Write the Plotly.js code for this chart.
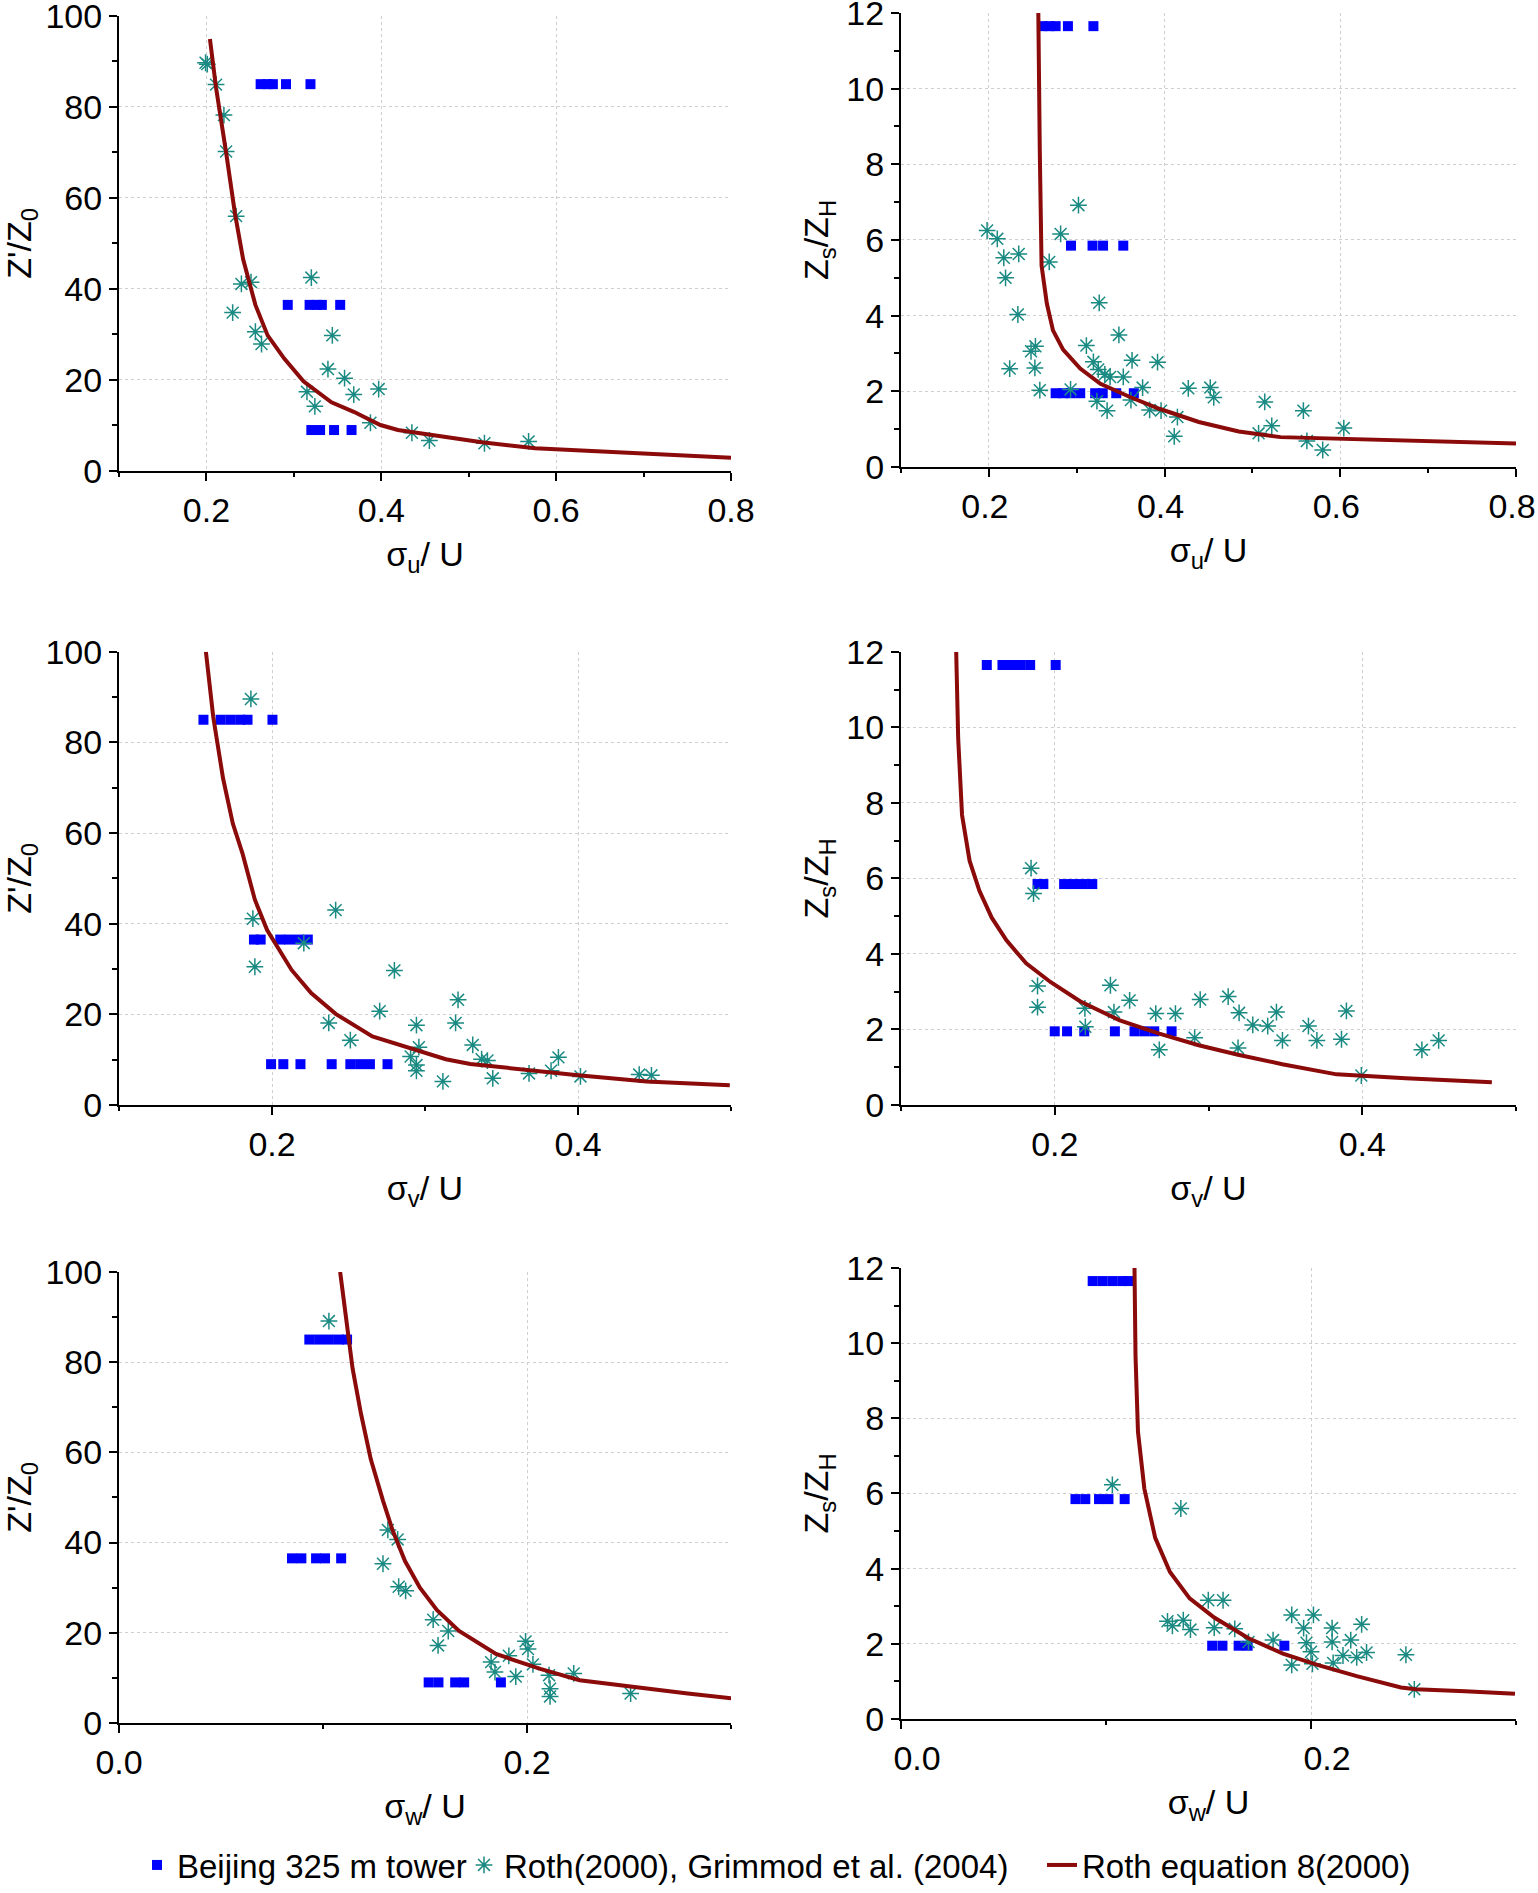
<!DOCTYPE html>
<html>
<head>
<meta charset="utf-8">
<script src="https://cdn.plot.ly/plotly-3.0.1.min.js"></script>
<style>
  html, body { margin: 0; padding: 0; background: #fff; }
  #chart { width: 1538px; height: 1893px; }
</style>
</head>
<body>
<div id="chart"></div>
<script>
// ---- sigma_u / U ----
const uLeftTowerX = [0.262, 0.270, 0.276, 0.291, 0.319, 0.293, 0.318, 0.326, 0.332, 0.353, 0.320, 0.330, 0.346, 0.366];
const uLeftTowerY = [85, 85, 85, 85, 85, 36.5, 36.5, 36.5, 36.5, 36.5, 9, 9, 9, 9];
const uLeftRothX = [0.199, 0.201, 0.211, 0.220, 0.2225, 0.234, 0.240, 0.251, 0.230, 0.256, 0.263, 0.320, 0.344, 0.339, 0.358, 0.315, 0.324, 0.3685, 0.397, 0.3876, 0.435, 0.455, 0.518, 0.5685];
const uLeftRothY = [89.7, 89.4, 84.9, 78.2, 70.2, 56.0, 41.1, 41.5, 34.8, 30.6, 27.9, 42.5, 29.8, 22.4, 20.4, 17.4, 14.2, 16.8, 18.0, 10.6, 8.4, 6.7, 6.1, 6.5];
const uLeftEqX = [0.204, 0.211, 0.2225, 0.2326, 0.242, 0.256, 0.270, 0.289, 0.311, 0.343, 0.3685, 0.399, 0.419, 0.453, 0.515, 0.576, 0.638, 0.694, 0.8];
const uLeftEqY = [94.9, 84.2, 70.0, 56.6, 46.5, 36.5, 29.8, 24.7, 19.7, 15.1, 13.0, 10.1, 9.0, 8.0, 6.3, 5.0, 4.4, 3.8, 2.9];

const uRightTowerX = [0.261, 0.269, 0.276, 0.290, 0.319, 0.2935, 0.318, 0.330, 0.353, 0.276, 0.2845, 0.293, 0.304, 0.321, 0.3296, 0.345, 0.365];
const uRightTowerY = [11.65, 11.65, 11.65, 11.65, 11.65, 5.85, 5.85, 5.85, 5.85, 1.95, 1.95, 1.95, 1.95, 1.95, 1.95, 1.95, 1.95];
const uRightRothX = [0.198, 0.2096, 0.217, 0.234, 0.219, 0.233, 0.248, 0.253, 0.2237, 0.2524, 0.258, 0.2687, 0.2817, 0.302, 0.3256, 0.348, 0.311, 0.319, 0.3245, 0.332, 0.338, 0.353, 0.363, 0.392, 0.293, 0.375, 0.323, 0.3346, 0.3617, 0.383, 0.396, 0.4146, 0.411, 0.427, 0.452, 0.456, 0.507, 0.514, 0.522, 0.558, 0.562, 0.580, 0.604];
const uRightRothY = [6.25, 6.03, 5.53, 5.63, 5.0, 4.03, 3.06, 3.19, 2.60, 2.62, 2.03, 5.42, 6.16, 6.92, 4.34, 3.49, 3.21, 2.78, 2.58, 2.45, 2.38, 2.38, 2.82, 2.77, 2.05, 2.10, 1.74, 1.49, 1.77, 1.51, 1.49, 1.32, 0.81, 2.08, 2.10, 1.84, 0.89, 1.72, 1.09, 1.49, 0.69, 0.45, 1.03];
const uRightEqX = [0.2563, 0.2575, 0.258, 0.260, 0.266, 0.273, 0.2845, 0.304, 0.327, 0.3606, 0.394, 0.439, 0.4845, 0.532, 0.62, 0.704, 0.8];
const uRightEqY = [12, 10.37, 8.3, 5.32, 4.32, 3.61, 3.1, 2.6, 2.2, 1.85, 1.54, 1.19, 0.94, 0.79, 0.74, 0.69, 0.62];

// ---- sigma_v / U ----
const vLeftTowerX = [0.1552, 0.1664, 0.1728, 0.1792, 0.184, 0.2003, 0.1882, 0.1926, 0.2054, 0.2112, 0.2176, 0.2234, 0.1994, 0.2074, 0.2186, 0.239, 0.2512, 0.2576, 0.264, 0.2755];
const vLeftTowerY = [85, 85, 85, 85, 85, 85, 36.5, 36.5, 36.5, 36.5, 36.5, 36.5, 9, 9, 9, 9, 9, 9, 9, 9];
const vLeftRothX = [0.1862, 0.1875, 0.1888, 0.2208, 0.2416, 0.28, 0.2704, 0.2371, 0.2512, 0.2944, 0.296, 0.2906, 0.2944, 0.2944, 0.3117, 0.3216, 0.32, 0.3312, 0.337, 0.3408, 0.3443, 0.368, 0.3824, 0.3872, 0.4016, 0.44, 0.448];
const vLeftRothY = [89.6, 41.1, 30.5, 35.7, 43.0, 29.7, 20.7, 18.1, 14.3, 17.6, 12.75, 10.7, 8.8, 7.55, 5.2, 23.2, 18.1, 13.25, 10.1, 9.8, 5.87, 6.96, 7.55, 10.5, 6.3, 6.7, 6.54];
const vLeftEqX = [0.1568, 0.1616, 0.168, 0.1744, 0.1808, 0.1888, 0.1968, 0.2032, 0.2128, 0.2256, 0.2416, 0.2656, 0.2944, 0.3136, 0.3296, 0.3584, 0.4, 0.4448, 0.4992];
const vLeftEqY = [100, 85.6, 72.1, 62.1, 55.4, 45.3, 38.6, 35.2, 29.8, 24.7, 20.1, 15.1, 12.2, 10.1, 9.06, 7.97, 6.54, 5.2, 4.36];

const vRightTowerX = [0.1558, 0.166, 0.1718, 0.1776, 0.184, 0.2006, 0.1888, 0.1926, 0.2061, 0.2119, 0.2183, 0.2244, 0.2, 0.208, 0.2192, 0.2391, 0.2519, 0.2583, 0.2647, 0.276];
const vRightTowerY = [11.65, 11.65, 11.65, 11.65, 11.65, 11.65, 5.85, 5.85, 5.85, 5.85, 5.85, 5.85, 1.95, 1.95, 1.95, 1.95, 1.95, 1.95, 1.95, 1.95];
const vRightRothX = [0.1846, 0.1862, 0.1888, 0.1888, 0.2196, 0.2199, 0.2362, 0.2385, 0.2487, 0.2657, 0.2785, 0.268, 0.291, 0.2946, 0.3128, 0.3199, 0.3192, 0.3288, 0.3385, 0.3442, 0.3481, 0.365, 0.3705, 0.3865, 0.3897, 0.3994, 0.4388, 0.4497];
const vRightRothY = [6.27, 5.60, 3.15, 2.59, 2.56, 2.07, 3.17, 2.46, 2.77, 2.42, 2.42, 1.46, 1.78, 2.79, 2.87, 2.44, 1.51, 2.12, 2.09, 2.46, 1.71, 2.09, 1.71, 1.74, 2.49, 0.78, 1.46, 1.71];
const vRightEqX = [0.1359, 0.1372, 0.1397, 0.1446, 0.151, 0.159, 0.1686, 0.1814, 0.1974, 0.2167, 0.2423, 0.268, 0.2936, 0.3192, 0.348, 0.3833, 0.4282, 0.4843];
const vRightEqY = [12, 9.70, 7.68, 6.47, 5.67, 4.96, 4.36, 3.75, 3.25, 2.74, 2.24, 1.89, 1.58, 1.33, 1.08, 0.81, 0.71, 0.60];

// ---- sigma_w / U ----
const wLeftTowerX = [0.0933, 0.0981, 0.1029, 0.1077, 0.1118, 0.0848, 0.0894, 0.0966, 0.101, 0.1089, 0.1518, 0.1566, 0.1648, 0.1692, 0.1872];
const wLeftTowerY = [85, 85, 85, 85, 85, 36.5, 36.5, 36.5, 36.5, 36.5, 9, 9, 9, 9, 9];
const wLeftRothX = [0.1029, 0.1318, 0.1366, 0.1294, 0.1371, 0.1405, 0.154, 0.1614, 0.1564, 0.1824, 0.1843, 0.1911, 0.1945, 0.1993, 0.2005, 0.2029, 0.2108, 0.2113, 0.2113, 0.2229, 0.2508];
const wLeftRothY = [89.1, 42.8, 40.7, 35.3, 30.2, 29.3, 22.9, 20.4, 17.2, 13.5, 11.3, 14.9, 10.3, 18.1, 16.4, 13.0, 10.6, 7.6, 5.9, 11.0, 6.54];
const wLeftEqX = [0.1084, 0.1113, 0.1145, 0.1186, 0.1234, 0.1294, 0.1342, 0.1402, 0.1475, 0.1559, 0.1667, 0.1848, 0.2065, 0.2258, 0.2499, 0.2788, 0.3005];
const wLeftEqY = [100, 89.5, 78.6, 68.6, 58.5, 49.3, 42.6, 35.9, 30.0, 25.0, 20.4, 15.3, 12.0, 9.47, 8.05, 6.54, 5.45];

const wRightTowerX = [0.0935, 0.0983, 0.1031, 0.1079, 0.1108, 0.0851, 0.0899, 0.0966, 0.1012, 0.1091, 0.1518, 0.1568, 0.1647, 0.1691, 0.187];
const wRightTowerY = [11.65, 11.65, 11.65, 11.65, 11.65, 5.85, 5.85, 5.85, 5.85, 5.85, 1.95, 1.95, 1.95, 1.95, 1.95];
const wRightRothX = [0.1031, 0.1365, 0.1499, 0.1571, 0.13, 0.1324, 0.1377, 0.1412, 0.1528, 0.1628, 0.1695, 0.1815, 0.1906, 0.2012, 0.1964, 0.1978, 0.2, 0.1906, 0.2007, 0.2103, 0.2103, 0.2108, 0.2194, 0.2156, 0.2223, 0.2271, 0.2247, 0.2463, 0.2504];
const wRightRothY = [6.23, 5.60, 3.16, 3.16, 2.60, 2.48, 2.63, 2.38, 2.43, 2.40, 2.05, 2.10, 2.77, 2.77, 2.42, 2.03, 1.79, 1.44, 1.47, 2.42, 2.05, 1.49, 2.10, 1.69, 1.64, 1.77, 2.52, 1.71, 0.79];
const wRightEqX = [0.1139, 0.1144, 0.1156, 0.1187, 0.124, 0.1312, 0.1408, 0.1528, 0.1695, 0.1863, 0.2031, 0.2223, 0.2439, 0.2511, 0.2751, 0.2995];
const wRightEqY = [12, 9.66, 7.64, 6.13, 4.82, 3.91, 3.21, 2.70, 2.15, 1.74, 1.44, 1.14, 0.84, 0.79, 0.74, 0.67];

const seriesNames = ['Beijing 325 m tower', 'Roth(2000), Grimmod et al. (2004)', 'Roth equation 8(2000)'];
const xTitles = ['σ<sub>u</sub>/ U', 'σ<sub>v</sub>/ U', 'σ<sub>w</sub>/ U'];
const yTitleLeft = "Z'/Z<sub>0</sub>";
const yTitleRight = 'Z<sub>s</sub>/Z<sub>H</sub>';

const W = 1538, H = 1893;
const FONT = 'Liberation Sans, Arial, sans-serif';
const FS = 34;
const BLUE = '#0000ff', TEAL = '#1a8a82', RED = '#8b0a0a';

// panel boxes in pixels: [left, right, top, bottom]
const panels = [
  {box: [119, 731, 16, 474], tower: [uLeftTowerX, uLeftTowerY], roth: [uLeftRothX, uLeftRothY], eq: [uLeftEqX, uLeftEqY], xr: [0.1, 0.8], yr: [0, 100], left: true, xt: xTitles[0]},
  {box: [901, 1516, 13, 470], tower: [uRightTowerX, uRightTowerY], roth: [uRightRothX, uRightRothY], eq: [uRightEqX, uRightEqY], xr: [0.1, 0.8], yr: [0, 12], left: false, xt: xTitles[0], shift: -4},
  {box: [119, 731, 656, 1112], tower: [vLeftTowerX, vLeftTowerY], roth: [vLeftRothX, vLeftRothY], eq: [vLeftEqX, vLeftEqY], xr: [0.1, 0.5], yr: [0, 100], left: true, xt: xTitles[1]},
  {box: [901, 1516, 656, 1112], tower: [vRightTowerX, vRightTowerY], roth: [vRightRothX, vRightRothY], eq: [vRightEqX, vRightEqY], xr: [0.1, 0.5], yr: [0, 12], left: false, xt: xTitles[1]},
  {box: [119, 731, 1280, 1734], tower: [wLeftTowerX, wLeftTowerY], roth: [wLeftRothX, wLeftRothY], eq: [wLeftEqX, wLeftEqY], xr: [0, 0.3], yr: [0, 100], left: true, xt: xTitles[2]},
  {box: [901, 1516, 1276, 1730], tower: [wRightTowerX, wRightTowerY], roth: [wRightRothX, wRightRothY], eq: [wRightEqX, wRightEqY], xr: [0, 0.3], yr: [0, 12], left: false, xt: xTitles[2], shift: 16}
];

const data = [];
const layout = {
  width: W, height: H,
  margin: {l: 0, r: 0, t: 0, b: 0},
  paper_bgcolor: '#fff', plot_bgcolor: '#fff',
  font: {family: FONT, size: FS, color: '#000'},
  showlegend: true
};

panels.forEach((p, i) => {
  const n = i + 1;
  const xa = 'x' + n, ya = 'y' + n;
  const dx = [p.box[0] / W, p.box[1] / W];
  const dy = [1 - p.box[3] / H, 1 - p.box[2] / H];
  const first = i === 0;

  data.push({
    x: p.tower[0], y: p.tower[1], xaxis: xa, yaxis: ya,
    type: 'scatter', mode: 'markers', name: seriesNames[0],
    showlegend: first, legend: 'legend',
    marker: {symbol: 'square', size: 10, color: BLUE, line: {width: 0}}
  });
  data.push({
    x: p.roth[0], y: p.roth[1], xaxis: xa, yaxis: ya,
    type: 'scatter', mode: 'markers', name: seriesNames[1],
    showlegend: first, legend: 'legend2',
    marker: {symbol: 'asterisk-open', size: 14, color: TEAL, line: {color: TEAL, width: 1.5}}
  });
  data.push({
    x: p.eq[0], y: p.eq[1], xaxis: xa, yaxis: ya,
    type: 'scatter', mode: 'lines', name: seriesNames[2],
    showlegend: first, legend: 'legend3',
    line: {color: RED, width: 4}
  });

  const ydt = p.left ? 20 : 2;
  layout['xaxis' + n] = {
    domain: dx, anchor: ya, range: p.xr, autorange: false,
    dtick: 0.2, tick0: 0, tickformat: '.1f',
    ticks: 'outside', ticklen: 8, tickwidth: 2, tickcolor: '#000',
    minor: {dtick: 0.1, tick0: 0, ticks: 'outside', ticklen: 4, tickwidth: 2, tickcolor: '#000', showgrid: false},
    showline: true, linewidth: 2, linecolor: '#000',
    showgrid: true, gridcolor: '#cfcfcf', griddash: 'dot', gridwidth: 1,
    zeroline: false, ticklabelshift: p.shift || 0, ticklabeloverflow: 'allow',
    tickfont: {size: FS},
    title: {text: p.xt, font: {size: FS}, standoff: 14}
  };
  layout['yaxis' + n] = {
    domain: dy, anchor: xa, range: p.yr, autorange: false,
    dtick: ydt, tick0: 0,
    ticks: 'outside', ticklen: 8, tickwidth: 2, tickcolor: '#000',
    minor: {dtick: ydt / 2, tick0: 0, ticks: 'outside', ticklen: 5, tickwidth: 2, tickcolor: '#000', showgrid: false},
    showline: true, linewidth: 2, linecolor: '#000',
    showgrid: true, gridcolor: '#cfcfcf', griddash: 'dot', gridwidth: 1,
    zeroline: false, ticklabeloverflow: 'allow',
    tickfont: {size: FS},
    title: {text: p.left ? yTitleLeft : yTitleRight, font: {size: FS}, standoff: p.left ? 23 : 7}
  };
  // mirrored top / right frame with inward ticks
  const m = n + 6;
  layout['xaxis' + m] = {
    domain: dx, overlaying: xa, anchor: ya, side: 'top', range: p.xr, autorange: false,
    dtick: 0.2, tick0: 0, ticks: 'inside', ticklen: 8, tickwidth: 2, tickcolor: '#000',
    minor: {dtick: 0.1, tick0: 0, ticks: 'inside', ticklen: 4, tickwidth: 2, tickcolor: '#000'},
    showticklabels: false, showline: true, linewidth: 2, linecolor: '#000',
    showgrid: false, zeroline: false
  };
  layout['yaxis' + m] = {
    domain: dy, overlaying: ya, anchor: xa, side: 'right', range: p.yr, autorange: false,
    dtick: ydt, tick0: 0, ticks: 'inside', ticklen: 8, tickwidth: 2, tickcolor: '#000',
    minor: {dtick: ydt / 2, tick0: 0, ticks: 'inside', ticklen: 4, tickwidth: 2, tickcolor: '#000'},
    showticklabels: false, showline: true, linewidth: 2, linecolor: '#000',
    showgrid: false, zeroline: false
  };
});

const legendBase = {
  orientation: 'h', xanchor: 'left', yanchor: 'middle', y: 1 - 1877 / H,
  bgcolor: 'rgba(0,0,0,0)', borderwidth: 0, font: {family: FONT, size: 33, color: '#000'}
};
layout.legend = Object.assign({}, legendBase, {x: 137 / W});
layout.legend2 = Object.assign({}, legendBase, {x: 464 / W});
layout.legend3 = Object.assign({}, legendBase, {x: 1042 / W});

Plotly.newPlot('chart', data, layout, {displayModeBar: false, staticPlot: true});
</script>
</body>
</html>
